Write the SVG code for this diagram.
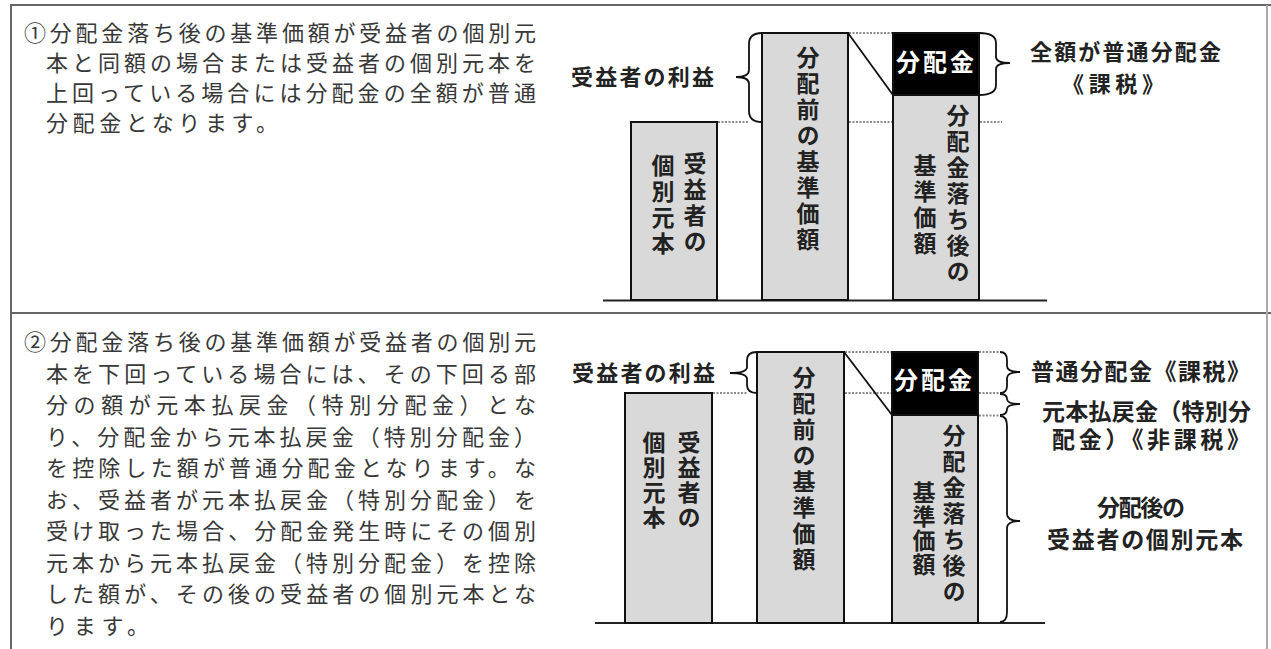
<svg xmlns="http://www.w3.org/2000/svg" width="1271" height="649" viewBox="0 0 1271 649">
<style>
.frame{stroke:#666;stroke-width:2;fill:none}
.bar{fill:#d9d9d9;stroke:#111;stroke-width:2}
.blk{fill:#000;stroke:#111;stroke-width:2}
.base{stroke:#222;stroke-width:2}
.dot{stroke:#8a8a8a;stroke-width:2;stroke-dasharray:2 1.5;fill:none}
.brace{fill:none;stroke:#111;stroke-width:1.8}
.diag{stroke:#111;stroke-width:1.8}
.para{font-family:"Liberation Serif","Noto Sans CJK JP",serif;font-size:22px;fill:#383838}
.lbl{font-family:"Liberation Sans","Noto Sans CJK JP",sans-serif;font-size:22px;font-weight:700;fill:#222}
.lbl2{font-family:"Liberation Sans","Noto Sans CJK JP",sans-serif;font-size:23px;font-weight:700;fill:#222}
.wt{fill:#fff;font-size:24px}
.vt{font-family:"Liberation Sans","Noto Sans CJK JP",sans-serif;font-size:23px;font-weight:700;fill:#222;writing-mode:vertical-rl;letter-spacing:3px}
</style>
<rect width="1271" height="649" fill="#fff"/>
<g id="frame">
<line class="frame" x1="10" y1="5" x2="1271" y2="5"/>
<line class="frame" x1="11" y1="5" x2="11" y2="649"/>
<line class="frame" x1="10" y1="313" x2="1271" y2="313"/>
<line class="frame" x1="1267" y1="5" x2="1267" y2="649" style="stroke:#aaa"/>
</g>
<g id="text1">
<text class="para" x="24" y="41" textLength="512">①分配金落ち後の基準価額が受益者の個別元</text>
<text class="para" x="46" y="71" textLength="490">本と同額の場合または受益者の個別元本を</text>
<text class="para" x="46" y="101" textLength="490">上回っている場合には分配金の全額が普通</text>
<text class="para" x="46" y="131" textLength="232">分配金となります。</text>
</g>
<g id="text2">
<text class="para" x="24" y="350" textLength="512">②分配金落ち後の基準価額が受益者の個別元</text>
<text class="para" x="46" y="381.5" textLength="490">本を下回っている場合には、その下回る部</text>
<text class="para" x="46" y="413" textLength="490">分の額が元本払戻金（特別分配金）とな</text>
<text class="para" x="46" y="444.5" textLength="490">り、分配金から元本払戻金（特別分配金）</text>
<text class="para" x="46" y="476" textLength="490">を控除した額が普通分配金となります。な</text>
<text class="para" x="46" y="507.5" textLength="490">お、受益者が元本払戻金（特別分配金）を</text>
<text class="para" x="46" y="539" textLength="490">受け取った場合、分配金発生時にその個別</text>
<text class="para" x="46" y="570.5" textLength="490">元本から元本払戻金（特別分配金）を控除</text>
<text class="para" x="46" y="602" textLength="490">した額が、その後の受益者の個別元本とな</text>
<text class="para" x="46" y="633.5" textLength="103">ります。</text>
</g>
<g id="connectors">
<line class="base" x1="603" y1="300.5" x2="1047" y2="300.5"/>
<line class="dot" x1="718" y1="122" x2="749" y2="122"/>
<line class="dot" x1="849" y1="122" x2="892" y2="122"/>
<line class="dot" x1="980" y1="122" x2="1002" y2="122"/>
<line class="dot" x1="849" y1="33" x2="892" y2="33"/>
<line class="diag" x1="848" y1="33" x2="893" y2="95"/>
<path class="brace" d="M762,33 Q749,33 749,44 L749,70 Q749,77 736,77 Q749,77 749,84 L749,111 Q749,122 762,122"/>
<path class="brace" d="M979,33 Q996,33 996,43 L996,57 Q996,63 1010,63 Q996,63 996,69 L996,85 Q996,95 979,95"/>
<line class="base" x1="595" y1="623" x2="1045" y2="623"/>
<line class="dot" x1="713" y1="393" x2="747" y2="393"/>
<line class="dot" x1="845" y1="393" x2="891" y2="393"/>
<line class="dot" x1="979" y1="393" x2="1001" y2="393"/>
<line class="dot" x1="845" y1="352" x2="891" y2="352"/>
<line class="dot" x1="979" y1="352" x2="1001" y2="352"/>
<line class="dot" x1="979" y1="415.5" x2="1001" y2="415.5"/>
<line class="diag" x1="844" y1="352" x2="892" y2="415"/>
<path class="brace" d="M757,352 Q747,352 747,360 L747,367 Q747,373 730,373 Q747,373 747,379 L747,385 Q747,393 757,393"/>
<path class="brace" d="M1000,352 Q1007,352 1007,360 L1007,366 Q1007,372 1020,372 Q1007,372 1007,378 L1007,386 Q1007,393 1000,393"/>
<path class="brace" d="M1000,394 Q1007,394 1007,399 Q1007,404 1020,404 Q1007,404 1007,409 Q1007,415 1000,415"/>
<path class="brace" d="M1000,416 Q1007,416 1007,426 L1007,514 Q1007,521 1020,521 Q1007,521 1007,528 L1007,612 Q1007,622 1000,622"/>
</g>
<g id="t-principal">
<rect class="bar" x="631" y="122" width="86" height="178"/>
<text class="vt" x="693" y="152">受益者の</text>
<text class="vt" x="661" y="154">個別元本</text>
</g>
<g id="t-before">
<rect class="bar" x="762" y="33" width="86" height="267"/>
<text class="vt" x="806" y="46">分配前の基準価額</text>
</g>
<g id="t-after">
<rect class="bar" x="893" y="95" width="86" height="205"/>
<rect class="blk" x="893" y="33" width="86" height="62"/>
<text class="lbl wt" x="896" y="71" textLength="78">分配金</text>
<text class="vt" x="956" y="104">分配金落ち後の</text>
<text class="vt" x="923" y="154">基準価額</text>
</g>
<g id="t-labels">
<text class="lbl" x="571" y="85" textLength="143">受益者の利益</text>
<text class="lbl" x="1030" y="60" textLength="191">全額が普通分配金</text>
<text class="lbl" x="1062" y="92" textLength="102">《課税》</text>
</g>
<g id="b-principal">
<rect class="bar" x="625" y="393" width="87" height="230"/>
<text class="vt" x="687" y="431" style="letter-spacing:2px">受益者の</text>
<text class="vt" x="652" y="431" style="letter-spacing:2px">個別元本</text>
</g>
<g id="b-before">
<rect class="bar" x="757" y="352" width="87" height="271"/>
<text class="vt" x="802" y="366">分配前の基準価額</text>
</g>
<g id="b-after">
<rect class="bar" x="892" y="415" width="86" height="208"/>
<rect class="blk" x="892" y="352" width="86" height="63"/>
<text class="lbl wt" x="894" y="389" textLength="78">分配金</text>
<text class="vt" x="952" y="424">分配金落ち後の</text>
<text class="vt" x="922" y="481" style="letter-spacing:1px">基準価額</text>
</g>
<g id="b-labels">
<text class="lbl" x="572" y="381" textLength="143">受益者の利益</text>
<text class="lbl2" x="1031" y="380" textLength="219">普通分配金《課税》</text>
<text class="lbl2" x="1042" y="420" textLength="209">元本払戻金（特別分</text>
<text class="lbl2" x="1052" y="448" textLength="198">配金）《非課税》</text>
<text class="lbl2" x="1097" y="516" textLength="88">分配後の</text>
<text class="lbl2" x="1047" y="548" textLength="196">受益者の個別元本</text>
</g>
</svg>
